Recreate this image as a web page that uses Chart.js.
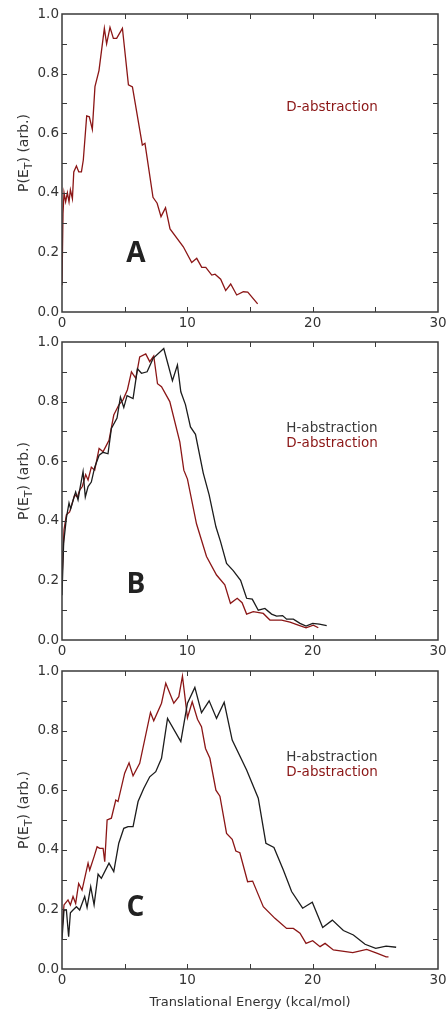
<!DOCTYPE html>
<html>
<head>
<meta charset="utf-8">
<script src="https://cdn.jsdelivr.net/npm/chart.js@4.4.1/dist/chart.umd.min.js"></script>
<style>
html, body { margin: 0; padding: 0; background: #fff; }
#wrap { position: relative; width: 446px; height: 1012px; overflow: hidden; }
canvas { position: absolute; left: 0; }
</style>
</head>
<body>
<div id="wrap">
  <canvas id="panelA" width="460" height="340" style="top:2px"></canvas>
  <canvas id="panelB" width="460" height="340" style="top:330px"></canvas>
  <canvas id="panelC" width="460" height="353" style="top:659px"></canvas>
</div>
<script>
// panel A : D-abstraction only
const energyA_D = [0, 0.08, 0.16, 0.29, 0.43, 0.56, 0.67, 0.83, 0.94, 1.15, 1.34, 1.55, 1.70, 1.97, 2.18, 2.42, 2.63, 2.95, 3.38, 3.56, 3.83, 4.1, 4.36, 4.82, 5.3, 5.62, 6.41, 6.62, 7.26, 7.59, 7.9, 8.26, 8.62, 9.68, 10.35, 10.75, 11.15, 11.47, 11.95, 12.21, 12.66, 13.06, 13.46, 13.94, 14.47, 14.82, 15.61];
const probA_D   = [0.09, 0.33, 0.40, 0.37, 0.40, 0.37, 0.41, 0.38, 0.47, 0.49, 0.47, 0.47, 0.51, 0.658, 0.655, 0.613, 0.756, 0.81, 0.952, 0.90, 0.955, 0.918, 0.918, 0.952, 0.762, 0.755, 0.56, 0.566, 0.385, 0.365, 0.32, 0.35, 0.279, 0.219, 0.166, 0.18, 0.15, 0.15, 0.124, 0.127, 0.11, 0.072, 0.094, 0.057, 0.068, 0.067, 0.027];

// panel B
const energyB_H = [0, 0.13, 0.35, 0.56, 0.69, 0.93, 1.09, 1.28, 1.46, 1.68, 1.86, 2.08, 2.34, 2.61, 2.96, 3.28, 3.67, 3.94, 4.39, 4.66, 4.93, 5.19, 5.67, 6.02, 6.34, 6.79, 7.27, 8.12, 8.81, 9.21, 9.48, 9.85, 10.25, 10.65, 11.27, 11.74, 12.28, 12.65, 13.13, 13.66, 14.25, 14.73, 15.18, 15.66, 16.19, 16.72, 17.12, 17.6, 17.92, 18.46, 18.99, 19.47, 20.0, 20.53, 21.12];
const probB_H   = [0.15, 0.325, 0.41, 0.46, 0.44, 0.475, 0.497, 0.47, 0.515, 0.565, 0.48, 0.515, 0.53, 0.58, 0.62, 0.63, 0.625, 0.71, 0.745, 0.815, 0.78, 0.82, 0.81, 0.91, 0.895, 0.90, 0.945, 0.978, 0.87, 0.923, 0.833, 0.79, 0.715, 0.69, 0.56, 0.487, 0.38, 0.33, 0.257, 0.233, 0.2, 0.14, 0.137, 0.10, 0.106, 0.087, 0.08, 0.082, 0.07, 0.07, 0.056, 0.047, 0.056, 0.053, 0.048];
const energyB_D = [0, 0.16, 0.35, 0.61, 1.01, 1.23, 1.41, 1.62, 1.89, 2.08, 2.34, 2.61, 2.96, 3.28, 3.75, 4.13, 4.55, 4.87, 5.22, 5.54, 5.89, 6.2, 6.68, 7.0, 7.32, 7.62, 7.94, 8.6, 9.4, 9.72, 10.01, 10.73, 11.53, 12.33, 12.99, 13.44, 13.98, 14.37, 14.73, 15.26, 16.06, 16.59, 17.52, 18.19, 18.85, 19.47, 20.05, 20.45];
const probB_D   = [0.2, 0.37, 0.42, 0.43, 0.487, 0.48, 0.503, 0.515, 0.555, 0.537, 0.58, 0.57, 0.643, 0.632, 0.67, 0.755, 0.79, 0.806, 0.84, 0.90, 0.878, 0.95, 0.96, 0.934, 0.953, 0.86, 0.85, 0.80, 0.665, 0.57, 0.54, 0.39, 0.28, 0.218, 0.185, 0.123, 0.14, 0.125, 0.087, 0.095, 0.089, 0.067, 0.067, 0.06, 0.05, 0.041, 0.05, 0.041];

// panel C
const energyC_H = [0, 0.16, 0.35, 0.53, 0.67, 0.88, 1.15, 1.41, 1.81, 2.0, 2.29, 2.56, 2.88, 3.14, 3.75, 4.13, 4.53, 4.93, 5.27, 5.67, 6.07, 6.52, 7.0, 7.48, 7.94, 8.42, 9.48, 10.01, 10.6, 11.13, 11.74, 12.33, 12.94, 13.58, 14.73, 15.66, 16.27, 16.91, 17.66, 18.32, 19.2, 19.97, 20.8, 21.57, 22.45, 23.25, 24.18, 25.03, 25.86, 26.66];
const probC_H   = [0.1, 0.198, 0.198, 0.108, 0.189, 0.198, 0.209, 0.198, 0.243, 0.207, 0.276, 0.215, 0.318, 0.304, 0.355, 0.327, 0.422, 0.472, 0.478, 0.478, 0.562, 0.606, 0.645, 0.662, 0.707, 0.841, 0.763, 0.892, 0.945, 0.86, 0.90, 0.841, 0.895, 0.768, 0.668, 0.573, 0.422, 0.408, 0.332, 0.26, 0.204, 0.224, 0.139, 0.164, 0.129, 0.114, 0.083, 0.069, 0.077, 0.073];
const energyC_D = [0, 0.16, 0.48, 0.67, 0.88, 1.09, 1.33, 1.6, 2.08, 2.21, 2.56, 2.8, 3.01, 3.28, 3.41, 3.6, 3.94, 4.29, 4.47, 5.0, 5.35, 5.67, 6.2, 7.06, 7.32, 7.94, 8.28, 8.92, 9.32, 9.61, 10.01, 10.39, 10.81, 11.13, 11.45, 11.8, 12.28, 12.6, 13.13, 13.58, 13.87, 14.19, 14.81, 15.21, 16.06, 16.99, 17.92, 18.46, 18.99, 19.47, 20.0, 20.59, 20.99, 21.65, 23.2, 24.31, 25.11, 25.86, 26.05];
const probC_D   = [0.13, 0.215, 0.232, 0.215, 0.243, 0.22, 0.287, 0.265, 0.355, 0.332, 0.377, 0.41, 0.405, 0.405, 0.36, 0.50, 0.506, 0.567, 0.562, 0.657, 0.692, 0.648, 0.69, 0.861, 0.833, 0.892, 0.959, 0.892, 0.914, 0.983, 0.843, 0.897, 0.838, 0.813, 0.74, 0.707, 0.60, 0.58, 0.455, 0.435, 0.396, 0.39, 0.293, 0.295, 0.209, 0.17, 0.136, 0.136, 0.12, 0.086, 0.095, 0.075, 0.086, 0.064, 0.055, 0.066, 0.053, 0.041, 0.041];

const seriesNames = ["H-abstraction", "D-abstraction"];
const panelLetters = ["A", "B", "C"];
const xTickMarks = [5, 10, 15, 20, 25];
const yTickMarks = [0.1, 0.2, 0.3, 0.4, 0.5, 0.6, 0.7, 0.8, 0.9];
const xTitle = "Translational Energy (kcal/mol)";

const RED = "#8b1616";
const BLACK = "#1c1c1c";
const TEXT = "#333";
const FONT = '"DejaVu Sans", sans-serif';
const PAD_TOP = 12;
const PLOT_H = 298;

function points(xs, ys) {
    return xs.map((x, i) => ({ x: x, y: ys[i] }));
}

function line(label, xs, ys, color) {
    return {
        label: label,
        data: points(xs, ys),
        borderColor: color,
        borderWidth: 1.3,
        pointRadius: 0,
        tension: 0,
        fill: false
    };
}

// frame, inward ticks, y title, panel letter and text legend
const decor = {
    id: "decor",
    afterDraw(chart, args, opts) {
        const ctx = chart.ctx;
        const a = chart.chartArea;
        const xs = chart.scales.x, ys = chart.scales.y;
        ctx.save();
        ctx.strokeStyle = "#3a3a3a";
        ctx.lineWidth = 1;
        ctx.beginPath();
        xTickMarks.forEach(v => {
            const px = Math.round(xs.getPixelForValue(v)) + 0.5;
            ctx.moveTo(px, a.bottom); ctx.lineTo(px, a.bottom - 5);
            ctx.moveTo(px, a.top); ctx.lineTo(px, a.top + 5);
        });
        yTickMarks.forEach(v => {
            const py = Math.round(ys.getPixelForValue(v)) + 0.5;
            ctx.moveTo(a.left, py); ctx.lineTo(a.left + 5, py);
            ctx.moveTo(a.right, py); ctx.lineTo(a.right - 5, py);
        });
        ctx.stroke();
        ctx.lineWidth = 1.5;
        ctx.strokeRect(a.left, a.top, a.right - a.left, a.bottom - a.top);

        // y axis title P(E_T) (arb.)
        ctx.fillStyle = TEXT;
        ctx.translate(28, a.top + 139);
        ctx.rotate(-Math.PI / 2);
        const big = "14px " + FONT, small = "11px " + FONT;
        ctx.font = big;
        const w1 = ctx.measureText("P(E").width;
        const w3 = ctx.measureText(") (arb.)").width;
        ctx.font = small;
        const w2 = ctx.measureText("T").width;
        let tx = -(w1 + w2 + w3) / 2;
        ctx.textAlign = "left";
        ctx.textBaseline = "alphabetic";
        ctx.font = big; ctx.fillText("P(E", tx, 0); tx += w1;
        ctx.font = small; ctx.fillText("T", tx, 4); tx += w2;
        ctx.font = big; ctx.fillText(") (arb.)", tx, 0);
        ctx.restore();

        ctx.save();
        ctx.fillStyle = "#222";
        ctx.font = 'bold 28px "Open Sans", sans-serif';
        ctx.textAlign = "center";
        ctx.textBaseline = "alphabetic";
        ctx.fillText(opts.letter, xs.getPixelForValue(opts.letterAt[0]), ys.getPixelForValue(opts.letterAt[1]));

        ctx.font = "13.5px " + FONT;
        ctx.textAlign = "left";
        ctx.textBaseline = "middle";
        opts.legend.forEach(item => {
            ctx.fillStyle = item.color;
            ctx.fillText(item.text, xs.getPixelForValue(item.at[0]), ys.getPixelForValue(item.at[1]));
        });

        if (opts.xTitle) {
            ctx.fillStyle = TEXT;
            ctx.font = "13px " + FONT;
            ctx.textAlign = "center";
            ctx.fillText(opts.xTitle, (a.left + a.right) / 2, a.bottom + 34);
        }
        ctx.restore();
    }
};

function makePanel(id, datasets, decorOpts) {
    const canvas = document.getElementById(id);
    const xAxisHeight = canvas.height - PAD_TOP - PLOT_H;
    return new Chart(canvas, {
        type: "line",
        data: { datasets: datasets },
        options: {
            responsive: false,
            animation: false,
            // canvas is 460 wide; plot area runs from x=62 to x=438
            layout: { padding: { top: PAD_TOP, right: 22, left: 0, bottom: 0 } },
            plugins: {
                legend: { display: false },
                tooltip: { enabled: false },
                decor: decorOpts
            },
            scales: {
                x: {
                    type: "linear",
                    min: 0,
                    max: 30,
                    grid: { display: false, drawTicks: false },
                    border: { display: false },
                    ticks: { stepSize: 10, padding: 3, maxRotation: 0, color: TEXT, font: { family: FONT, size: 13.5 } },
                    afterFit: s => { s.height = xAxisHeight; }
                },
                y: {
                    min: 0,
                    max: 1,
                    grid: { display: false, drawTicks: false },
                    border: { display: false },
                    ticks: { stepSize: 0.2, padding: 3, color: TEXT, font: { family: FONT, size: 13.5 },
                             callback: v => v.toFixed(1) },
                    afterFit: s => { s.width = 62; }
                }
            }
        },
        plugins: [decor]
    });
}

makePanel("panelA", [
    line(seriesNames[1], energyA_D, probA_D, RED)
], {
    letter: panelLetters[0], letterAt: [5.9, 0.168],
    legend: [{ text: seriesNames[1], color: RED, at: [17.9, 0.685] }]
});

makePanel("panelB", [
    line(seriesNames[0], energyB_H, probB_H, BLACK),
    line(seriesNames[1], energyB_D, probB_D, RED)
], {
    letter: panelLetters[1], letterAt: [5.9, 0.158],
    legend: [
        { text: seriesNames[0], color: "#3a3a3a", at: [17.9, 0.711] },
        { text: seriesNames[1], color: RED, at: [17.9, 0.658] }
    ]
});

makePanel("panelC", [
    line(seriesNames[0], energyC_H, probC_H, BLACK),
    line(seriesNames[1], energyC_D, probC_D, RED)
], {
    letter: panelLetters[2], letterAt: [5.85, 0.178],
    legend: [
        { text: seriesNames[0], color: "#3a3a3a", at: [17.9, 0.711] },
        { text: seriesNames[1], color: RED, at: [17.9, 0.658] }
    ],
    xTitle: xTitle
});
</script>
</body>
</html>
